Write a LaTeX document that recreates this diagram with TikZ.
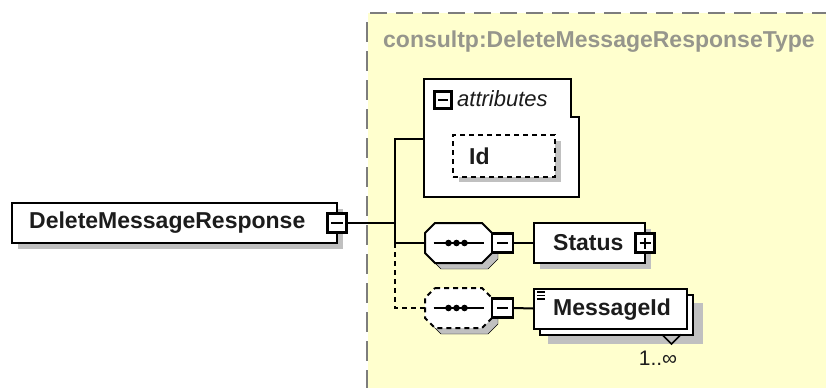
\documentclass[tikz,border=0pt]{standalone}
\usepackage{fontspec}
\setmainfont{Liberation Sans}
\usetikzlibrary{calc}
\definecolor{bgyellow}{RGB}{255,255,206}
\definecolor{shadowgrey}{RGB}{192,192,192}
\definecolor{titlegrey}{RGB}{150,150,140}
\definecolor{bordergrey}{RGB}{125,125,125}
\definecolor{txt}{RGB}{28,28,28}
\newcommand{\octagon}[3]{%
  \draw[#3] (#1-23.5,#2-20) -- (#1+23.5,#2-20) -- (#1+33.5,#2-10) -- (#1+33.5,#2+10)
    -- (#1+23.5,#2+20) -- (#1-23.5,#2+20) -- (#1-33.5,#2+10) -- (#1-33.5,#2-10) -- cycle;}
\newcommand{\seqsign}[2]{%
  \draw[line width=2pt] (#1-25,#2) -- (#1+25,#2);
  \fill (#1-10,#2) circle (3.3pt) (#1-2,#2) circle (3.3pt) (#1+6,#2) circle (3.3pt);}
\begin{document}
\begin{tikzpicture}[x=1pt,y=-1pt,
  box/.style={draw=black,line width=2pt,fill=white,inner sep=0pt,minimum height=40pt},
  pm/.style={draw=black,line width=2.4pt,fill=white,minimum width=19pt,minimum height=19pt,inner sep=0pt},
  conn/.style={line width=2pt,black},
  lbl/.style={font=\fontsize{23}{27}\selectfont\bfseries,text=txt,inner sep=0pt,anchor=west},
  hole/.style={draw=none,inner sep=0pt,minimum width=67pt,minimum height=40pt},
]
\useasboundingbox (0,0) rectangle (826,388);
% background of the type
\fill[bgyellow] (368,13) rectangle (826,388);
\draw[bordergrey,line width=2.2pt,dash pattern=on 17pt off 9pt] (370,13) -- (826,13);
\draw[bordergrey,line width=2.2pt,dash pattern=on 20pt off 9pt] (367,22) -- (367,388);
\node[font=\fontsize{23}{27}\selectfont\bfseries,text=titlegrey,anchor=west,inner sep=0pt] (title) at (383,42) {consultp:DeleteMessageResponseType};

% main element
\fill[shadowgrey] (18,209) rectangle (343,249);
\node[box,minimum width=325pt] (main) at (174.5,223) {};
\node[lbl] (maintext) at (29,223) {DeleteMessageResponse};
\node[pm] (mainpm) at (337,223) {};
\draw[line width=1.8pt] (331,223) -- (343,223);

% trunk points
\coordinate (jtop) at (395,139);
\coordinate (jmid) at (395,223);
\coordinate (jstat) at (395,243);
\coordinate (jmsg) at (395,308);
\coordinate (attrw) at (424,139);

% attributes box
\draw[line width=2pt,fill=white] (424,79) -- (571,79) -- (571,117) -- (579,117) -- (579,197) -- (424,197) -- cycle;
\node[pm,minimum width=17pt,minimum height=17pt] (attrpm) at (443,100) {};
\draw[line width=1.8pt] (438,100) -- (448,100);
\node[font=\fontsize{22}{26}\selectfont\itshape,text=txt,anchor=west,inner sep=0pt] (attrtext) at (457,99) {attributes};
\fill[shadowgrey] (459,141) rectangle (561,182);
\node[draw=black,line width=2pt,dash pattern=on 5pt off 4pt,fill=white,minimum width=102pt,minimum height=42pt,inner sep=0pt] (id) at (504,156) {};
\node[lbl] (idtext) at (469,156) {Id};

% connectors from the main element
\draw[conn] (mainpm.east) -- (jmid);
\draw[conn] (attrw) -- (jtop) -- (jstat);

% sequence 1 (Status)
\octagon{464.5}{249}{fill=shadowgrey}
\octagon{458.5}{243}{fill=white,draw=black,line width=2pt}
\node[hole] (seqA) at (458.5,243) {};
\seqsign{458.5}{243}
\node[pm,minimum width=21pt] (seqApm) at (502.5,243) {};
\draw[line width=1.8pt] (497,243) -- (508,243);
\fill[shadowgrey] (540,229) rectangle (651,269);
\node[box,minimum width=111pt] (status) at (589.5,243) {};
\node[lbl] (statustext) at (553,243) {Status};
\node[pm] (statuspm) at (645,243) {};
\draw[line width=1.8pt] (639.5,243) -- (650.5,243) (645,237.5) -- (645,248.5);
\draw[conn] (jstat) -- (seqA.west);
\draw[conn] (seqApm.east) -- (status.west);

% sequence 2 (MessageId)
\octagon{464.5}{314}{fill=shadowgrey}
\octagon{458.5}{308}{fill=white,draw=black,line width=2pt,dash pattern=on 5pt off 4pt}
\node[hole] (seqB) at (458.5,308) {};
\seqsign{458.5}{308}
\node[pm,minimum width=21pt] (seqBpm) at (502.5,308) {};
\draw[line width=1.8pt] (497,308) -- (508,308);
\draw[conn,dash pattern=on 5pt off 4pt] (jstat) -- (jmsg) -- (seqB.west);

\fill[shadowgrey] (548,303) rectangle (703,344);
\node[box,minimum width=153pt,minimum height=40pt] (msgback) at (616.5,314.5) {};
\node[box,minimum width=153pt,minimum height=40pt] (msg) at (610.5,308.5) {};
\node[lbl] (msgtext) at (553,310) {MessageId};
\draw[line width=1.2pt] (537,292) -- (545,292) (537,295.5) -- (545,295.5) (537,299) -- (545,299);
\draw[line width=1.6pt] (662,334.5) -- (671.5,344) -- (681,334.5);
\node[font=\fontsize{21}{25}\selectfont,text=txt,inner sep=0pt] (card) at (658,358) {1..∞};
\draw[conn] (seqBpm.east) -- (msg.west);
\end{tikzpicture}
\end{document}
